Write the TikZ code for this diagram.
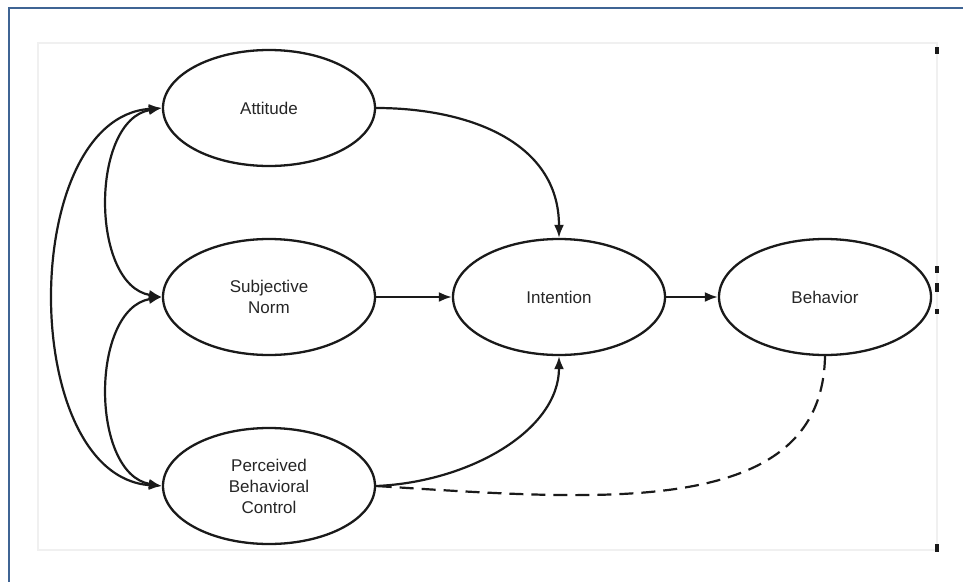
\documentclass[tikz,border=0pt]{standalone}
\usepackage{fontspec}
\setmainfont{Liberation Sans}
\usetikzlibrary{arrows.meta,shapes.geometric}
\definecolor{frameblue}{HTML}{3F6494}
\definecolor{inkc}{HTML}{1A1A1A}
\definecolor{textc}{HTML}{262626}
\tikzset{
  construct/.style={ellipse,draw=inkc,line width=2.3pt,minimum width=212pt,minimum height=116pt,inner sep=0pt,
    align=center,text=textc,font=\fontsize{17}{21}\selectfont},
  link/.style={draw=inkc,line width=2.2pt,-{Latex[length=13pt,width=10pt]}},
  biLink/.style={draw=inkc,line width=2.2pt,{Latex[length=13pt,width=10pt]}-{Latex[length=13pt,width=10pt]}},
  dashLink/.style={draw=inkc,line width=2.2pt,dash pattern=on 14pt off 8pt}
}
\begin{document}
\begin{tikzpicture}[x=1pt,y=-1pt]
\useasboundingbox (0,0) rectangle (963,581);
\fill[white] (0,0) rectangle (963,581);
% outer frame
\draw[frameblue,line width=2.8pt] (9,600) -- (9,8) -- (980,8);
% faint inner box
\draw[black!6,line width=2pt] (38,43) rectangle (937,550);
% nodes
\node[construct] (att) at (269,108) {Attitude};
\node[construct] (sn) at (269,297) {Subjective\\Norm};
\node[construct] (pbc) at (269,486) {Perceived\\Behavioral\\Control};
\node[construct] (int) at (559,297) {Intention};
\node[construct] (beh) at (825,297) {Behavior};
% arrows
\draw[link] (att.east) .. controls (465,108) and (559,140) .. (int.north);
\draw[link] (sn.east) -- (int.west);
\draw[link] (int.east) -- (beh.west);
\draw[link] (pbc.east) .. controls (470,482) and (559,430) .. (int.south);
\draw[dashLink] (beh.south) .. controls (822,520) and (600,500) .. (pbc.east);
% correlations
\draw[biLink] (att.west) .. controls (90,120) and (90,285) .. (sn.west);
\draw[biLink] (sn.west) .. controls (90,309) and (90,474) .. (pbc.west);
\draw[biLink] (att.west) .. controls (18,118) and (18,476) .. (pbc.west);
% small edge marks
\fill[inkc] (935,266) rectangle (939,273);
\fill[inkc] (935,283) rectangle (939,292);
\fill[inkc] (935,309) rectangle (939,314);
\fill[inkc] (935,47) rectangle (939,54);
\fill[inkc] (935,544) rectangle (939,552);
\end{tikzpicture}
\end{document}
